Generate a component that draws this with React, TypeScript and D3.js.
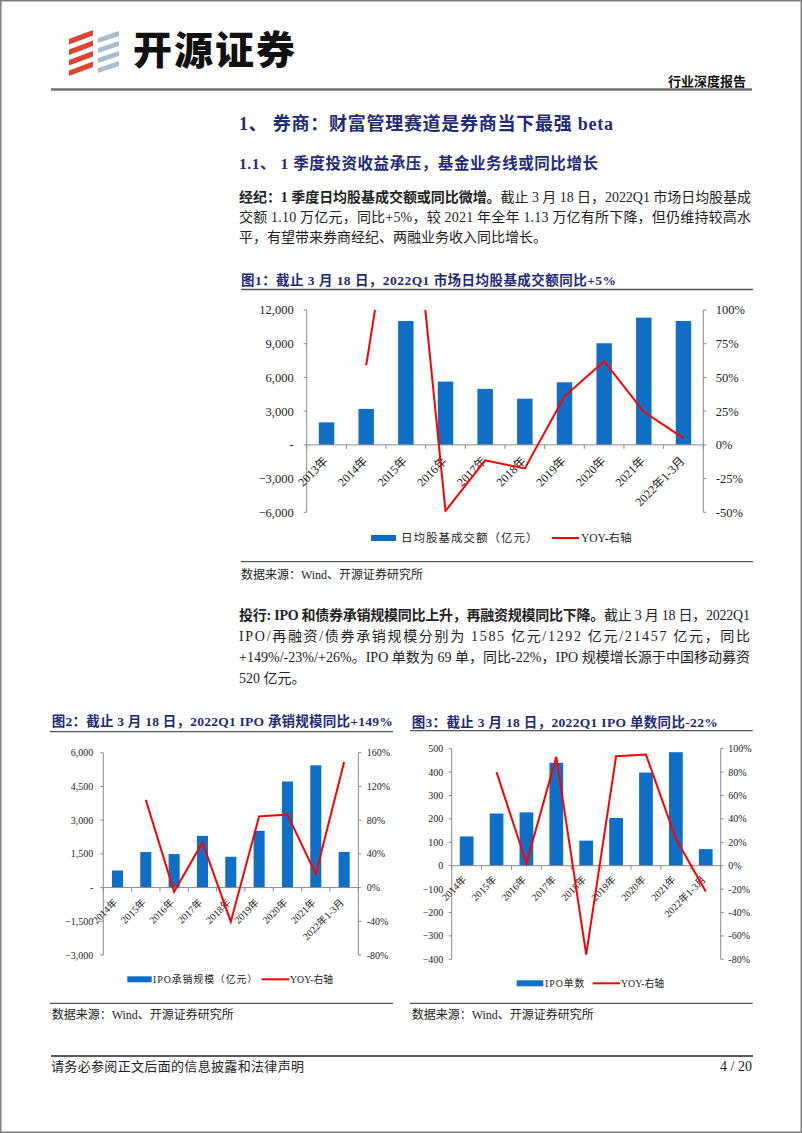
import React from "react";
import * as d3 from "d3";

// ---------- data ----------
const cat1 = ["2013年", "2014年", "2015年", "2016年", "2017年", "2018年", "2019年", "2020年", "2021年", "2022年1-3月"];
const turnover1 = [2000, 3200, 11020, 5630, 4980, 4110, 5570, 9040, 11320, 11020];
const yoy1: (number | null)[] = [null, 0.59, 2.44, -0.49, -0.115, -0.175, 0.36, 0.62, 0.245, 0.05];
const leftTicks1 = [-6000, -3000, 0, 3000, 6000, 9000, 12000];
const rightTicks1 = [-0.5, -0.25, 0, 0.25, 0.5, 0.75, 1];

const cat2 = ["2014年", "2015年", "2016年", "2017年", "2018年", "2019年", "2020年", "2021年", "2022年1-3月"];
const ipoAmt = [760, 1580, 1490, 2300, 1370, 2525, 4720, 5440, 1585];
const yoy2: (number | null)[] = [null, 1.04, -0.05, 0.535, -0.405, 0.845, 0.865, 0.16, 1.49];
const leftTicks2 = [-3000, -1500, 0, 1500, 3000, 4500, 6000];
const rightTicks2 = [-0.8, -0.4, 0, 0.4, 0.8, 1.2, 1.6];

const cat3 = ["2014年", "2015年", "2016年", "2017年", "2018年", "2019年", "2020年", "2021年", "2022年1-3月"];
const ipoCnt = [125, 223, 228, 440, 107, 204, 398, 485, 71];
const yoy3: (number | null)[] = [null, 0.8, 0.02, 0.93, -0.76, 0.935, 0.95, 0.23, -0.22];
const leftTicks3 = [-400, -300, -200, -100, 0, 100, 200, 300, 400, 500];
const rightTicks3 = [-0.8, -0.6, -0.4, -0.2, 0, 0.2, 0.4, 0.6, 0.8, 1.0];

// ---------- styles ----------
const FONT = "'Liberation Serif', 'Noto Sans CJK SC', serif";
const NAVY = "#1f2a78";
const BLUE = "#0f6fc6";
const RED = "#ff0000";
const AXIS = "#8a8a8a";

const fmtAcc = (v: number) => (v === 0 ? "-" : d3.format(",")(v));
const fmtPlain = (v: number) => d3.format(",")(v);
const fmtPct = (v: number) => `${Math.round(v * 100)}%`;

type ChartProps = {
  id: string;
  cats: string[];
  bars: number[];
  yoy: (number | null)[];
  x0: number; x1: number; yTop: number; yBot: number;
  leftDomain: [number, number]; leftTicks: number[]; leftFmt: (v: number) => string;
  rightDomain: [number, number]; rightTicks: number[];
  barRatio: number;
  tickFs: number; xFs: number;
  leftGap: number; rightGap: number;
  xdx: number; xdy: number;
  legendY: number; legBar: [number, number]; legBarText: string; legLine: [number, number]; legFs: number;
  legBarTextX: number; legLineTextX: number;
};

function DualChart(p: ChartProps) {
  const x = d3.scaleBand<string>().domain(p.cats).range([p.x0, p.x1]).paddingInner(0).paddingOuter(0);
  const yL = d3.scaleLinear().domain(p.leftDomain).range([p.yBot, p.yTop]);
  const yR = d3.scaleLinear().domain(p.rightDomain).range([p.yBot, p.yTop]);
  const bw = x.bandwidth() * p.barRatio;
  const y0 = yL(0);
  const line = d3
    .line<number | null>()
    .defined((d) => d !== null)
    .x((_, i) => (x(p.cats[i]) as number) + x.bandwidth() / 2)
    .y((d) => yR(d as number));
  const bounds = d3.range(p.cats.length + 1).map((i) => p.x0 + i * x.bandwidth());
  return (
    <g>
      <defs>
        <clipPath id={`clip-${p.id}`}>
          <rect x={p.x0} y={p.yTop} width={p.x1 - p.x0} height={p.yBot - p.yTop} />
        </clipPath>
      </defs>
      {p.bars.map((v, i) => {
        const cx = (x(p.cats[i]) as number) + x.bandwidth() / 2;
        return <rect key={i} x={cx - bw / 2} y={yL(Math.max(v, 0))} width={bw} height={Math.abs(yL(v) - y0)} fill={BLUE} />;
      })}
      {/* left axis */}
      <line x1={p.x0} x2={p.x0} y1={p.yTop} y2={p.yBot} stroke={AXIS} strokeWidth={1} />
      {p.leftTicks.map((t) => (
        <g key={t}>
          <line x1={p.x0 - 3} x2={p.x0} y1={yL(t)} y2={yL(t)} stroke={AXIS} />
          <text x={p.x0 - p.leftGap} y={yL(t)} dy="0.35em" textAnchor="end" fontSize={p.tickFs} fontFamily={FONT} fill="#222">
            {p.leftFmt(t)}
          </text>
        </g>
      ))}
      {/* right axis */}
      <line x1={p.x1} x2={p.x1} y1={p.yTop} y2={p.yBot} stroke={AXIS} strokeWidth={1} />
      {p.rightTicks.map((t) => (
        <g key={t}>
          <line x1={p.x1} x2={p.x1 + 3} y1={yR(t)} y2={yR(t)} stroke={AXIS} />
          <text x={p.x1 + p.rightGap} y={yR(t)} dy="0.35em" textAnchor="start" fontSize={p.tickFs} fontFamily={FONT} fill="#222">
            {fmtPct(t)}
          </text>
        </g>
      ))}
      {/* x axis */}
      <line x1={p.x0} x2={p.x1} y1={y0} y2={y0} stroke={AXIS} strokeWidth={1} />
      {bounds.map((b, i) => (
        <line key={i} x1={b} x2={b} y1={y0} y2={y0 + 4} stroke={AXIS} />
      ))}
      {p.cats.map((c) => {
        const cx = (x(c) as number) + x.bandwidth() / 2;
        return (
          <text key={c} transform={`translate(${cx + p.xdx},${y0 + p.xdy}) rotate(-45)`} textAnchor="end" fontSize={p.xFs} fontFamily={FONT} fill="#222">
            {c}
          </text>
        );
      })}
      {/* yoy line */}
      <path d={line(p.yoy) || ""} fill="none" stroke={RED} strokeWidth={2} clipPath={`url(#clip-${p.id})`} />
      {/* legend */}
      <rect x={p.legBar[0]} y={p.legendY - 3} width={p.legBar[1] - p.legBar[0]} height={6} fill={BLUE} />
      <text x={p.legBarTextX} y={p.legendY} dy="0.36em" fontSize={p.legFs} fontFamily={FONT} fill="#222" letterSpacing={1}>
        {p.legBarText}
      </text>
      <line x1={p.legLine[0]} x2={p.legLine[1]} y1={p.legendY} y2={p.legendY} stroke={RED} strokeWidth={2} />
      <text x={p.legLineTextX} y={p.legendY} dy="0.36em" fontSize={p.legFs} fontFamily={FONT} fill="#222">
        YOY-右轴
      </text>
    </g>
  );
}

function T(props: { x: number; y: number; fs: number; w?: string | number; fill?: string; len?: number; anchor?: string; children: React.ReactNode }) {
  const { x, y, fs, w, fill, len, anchor, children } = props;
  return (
    <text
      x={x}
      y={y}
      fontSize={fs}
      fontWeight={w || "normal"}
      fill={fill || "#222"}
      fontFamily={FONT}
      textAnchor={anchor || "start"}
      {...(len ? { textLength: len, lengthAdjust: "spacing" } : {})}
    >
      {children}
    </text>
  );
}

function Logo() {
  const red = [0, 1, 2, 3].map((i) => {
    const y = 30 + i * 10.5;
    return `${69},${y + 9} ${93},${y} ${93},${y + 5.5} ${69},${y + 14.5}`;
  });
  const blue = [0, 1, 2, 3].map((i) => {
    const y = 31 + i * 10;
    return `${98},${y + 7} ${119},${y} ${119},${y + 5} ${98},${y + 12}`;
  });
  return (
    <g>
      {red.map((pts, i) => (
        <polygon key={"r" + i} points={pts} fill="#e0432f" />
      ))}
      {blue.map((pts, i) => (
        <polygon key={"b" + i} points={pts} fill="#a7bfcc" />
      ))}
      <text x={133} y={64} fontSize={39} fontWeight={900} fontFamily="'Noto Sans CJK SC', sans-serif" fill="#111" textLength={162} lengthAdjust="spacing">
        开源证券
      </text>
    </g>
  );
}

export default function App() {
  return (
    <div style={{ position: "absolute", left: 0, top: 0, width: 802, height: 1133, background: "#fff" }}>
      <svg width={802} height={1133} viewBox="0 0 802 1133" style={{ display: "block" }}>
        <rect x={0.75} y={0.75} width={800.5} height={1131.5} fill="#fff" stroke="#808080" strokeWidth={1.5} />
        <Logo />
        <T x={746} y={86} fs={13} w="bold" anchor="end" fill="#111">行业深度报告</T>
        <line x1={51} x2={752} y1={89.5} y2={89.5} stroke="#707070" strokeWidth={2.5} />

        <T x={239} y={129.5} fs={18} w="bold" fill={NAVY} len={374}>1、 券商：财富管理赛道是券商当下最强 beta</T>
        <T x={239} y={169} fs={15.5} w="bold" fill={NAVY} len={359}>1.1、 1 季度投资收益承压，基金业务线或同比增长</T>

        <text x={239} y={201.5} fontSize={14} fontFamily={FONT} fill="#222" textLength={512} lengthAdjust="spacing">
          <tspan fontWeight="bold">经纪：1 季度日均股基成交额或同比微增。</tspan>
          <tspan>截止 3 月 18 日，2022Q1 市场日均股基成</tspan>
        </text>
        <T x={239} y={221.5} fs={14} len={512}>交额 1.10 万亿元，同比+5%，较 2021 年全年 1.13 万亿有所下降，但仍维持较高水</T>
        <T x={239} y={241.5} fs={14}>平，有望带来券商经纪、两融业务收入同比增长。</T>

        {/* chart 1 */}
        <T x={241} y={285} fs={13.5} w="bold" fill={NAVY} len={375}>图1：截止 3 月 18 日，2022Q1 市场日均股基成交额同比+5%</T>
        <line x1={241} x2={753} y1={289.5} y2={289.5} stroke="#555" strokeWidth={1.3} />
        <DualChart
          id="c1" cats={cat1} bars={turnover1} yoy={yoy1}
          x0={306.7} x1={703.3} yTop={310} yBot={512.3}
          leftDomain={[-6000, 12000]} leftTicks={leftTicks1} leftFmt={fmtAcc}
          rightDomain={[-0.5, 1]} rightTicks={rightTicks1}
          barRatio={0.39} tickFs={12.5} xFs={12} leftGap={13} rightGap={12.5}
          xdx={2} xdy={17}
          legendY={538} legBar={[371, 396]} legBarText="日均股基成交额（亿元）" legLine={[552, 579]} legFs={11.5}
          legBarTextX={401} legLineTextX={581}
        />
        <line x1={241} x2={753} y1={561.7} y2={561.7} stroke="#555" strokeWidth={1.3} />
        <T x={241} y={578.5} fs={12} len={182}>数据来源：Wind、开源证券研究所</T>

        {/* paragraph 2 */}
        <text x={239} y={620} fontSize={14} fontFamily={FONT} fill="#222" textLength={511} lengthAdjust="spacing">
          <tspan fontWeight="bold">投行: IPO 和债券承销规模同比上升，再融资规模同比下降。</tspan>
          <tspan>截止 3 月 18 日，2022Q1</tspan>
        </text>
        <T x={239} y={641} fs={14} len={511}>IPO/再融资/债券承销规模分别为 1585 亿元/1292 亿元/21457 亿元，同比</T>
        <T x={239} y={662} fs={14} len={511}>+149%/-23%/+26%。IPO 单数为 69 单，同比-22%，IPO 规模增长源于中国移动募资</T>
        <T x={239} y={683} fs={14}>520 亿元。</T>

        {/* chart 2 */}
        <T x={51.7} y={725.7} fs={13.5} w="bold" fill={NAVY} len={341}>图2：截止 3 月 18 日，2022Q1 IPO 承销规模同比+149%</T>
        <line x1={50} x2={393} y1={731.7} y2={731.7} stroke="#555" strokeWidth={1.3} />
        <DualChart
          id="c2" cats={cat2} bars={ipoAmt} yoy={yoy2}
          x0={103.3} x1={358.3} yTop={752.7} yBot={955}
          leftDomain={[-3000, 6000]} leftTicks={leftTicks2} leftFmt={fmtAcc}
          rightDomain={[-0.8, 1.6]} rightTicks={rightTicks2}
          barRatio={0.39} tickFs={10} xFs={10} leftGap={10} rightGap={8.4}
          xdx={0.5} xdy={15.5}
          legendY={979.3} legBar={[127.3, 151.7]} legBarText="IPO承销规模（亿元）" legLine={[261.7, 289.3]} legFs={9.8}
          legBarTextX={153} legLineTextX={290}
        />
        <line x1={50} x2={393} y1={1003.3} y2={1003.3} stroke="#555" strokeWidth={1.3} />
        <T x={51.7} y={1018.5} fs={12} len={182}>数据来源：Wind、开源证券研究所</T>

        {/* chart 3 */}
        <T x={411.7} y={726.7} fs={13.5} w="bold" fill={NAVY} len={306}>图3：截止 3 月 18 日，2022Q1 IPO 单数同比-22%</T>
        <line x1={410} x2={752.7} y1={730.7} y2={730.7} stroke="#555" strokeWidth={1.3} />
        <DualChart
          id="c3" cats={cat3} bars={ipoCnt} yoy={yoy3}
          x0={451.7} x1={720.7} yTop={748.7} yBot={959.3}
          leftDomain={[-400, 500]} leftTicks={leftTicks3} leftFmt={fmtPlain}
          rightDomain={[-0.8, 1.0]} rightTicks={rightTicks3}
          barRatio={0.46} tickFs={10} xFs={10} leftGap={8.4} rightGap={7.6}
          xdx={0.5} xdy={14.5}
          legendY={983.3} legBar={[516.7, 543.3]} legBarText="IPO单数" legLine={[592.7, 620]} legFs={9.8}
          legBarTextX={545} legLineTextX={621}
        />
        <line x1={410} x2={752.7} y1={1003.3} y2={1003.3} stroke="#555" strokeWidth={1.3} />
        <T x={411.7} y={1018.5} fs={12} len={182}>数据来源：Wind、开源证券研究所</T>

        {/* footer */}
        <line x1={51} x2={753} y1={1056} y2={1056} stroke="#222" strokeWidth={1.5} />
        <T x={51} y={1071} fs={13} len={253}>请务必参阅正文后面的信息披露和法律声明</T>
        <T x={752} y={1071} fs={14} anchor="end">4 / 20</T>
      </svg>
    </div>
  );
}
